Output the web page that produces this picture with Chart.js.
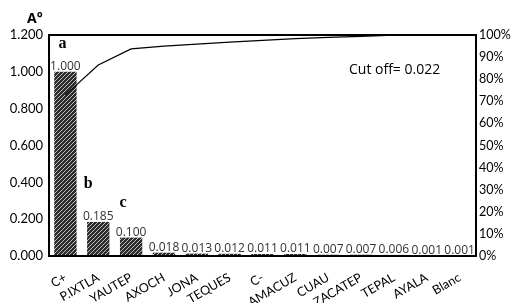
<!DOCTYPE html>
<html>
<head>
<meta charset="utf-8">
<script src="https://cdn.jsdelivr.net/npm/chart.js@4.4.1/dist/chart.umd.min.js"></script>
<style>
  html, body { margin: 0; padding: 0; background: #fff; }
  #wrap { width: 512px; height: 303px; position: relative; }
</style>
</head>
<body>
<div id="wrap"><canvas id="pareto"></canvas></div>
<script>
// values
const labels = ['C+', 'P.IXTLA', 'YAUTEP', 'AXOCH', 'JONA', 'TEQUES', 'C-', 'AMACUZ', 'CUAU', 'ZACATEP', 'TEPAL', 'AYALA', 'Blanc'];
const absorbance = [1.000, 0.185, 0.100, 0.018, 0.013, 0.012, 0.011, 0.011, 0.007, 0.007, 0.006, 0.001, 0.001];
const cumulative = [72.9, 86.4, 93.7, 95.0, 95.9, 96.8, 97.6, 98.4, 98.9, 99.4, 99.9, 99.9, 100];
const groupLetters = ['a', 'b', 'c'];
const leftTicks = [0, 0.2, 0.4, 0.6, 0.8, 1.0, 1.2];
const rightTicks = [0, 10, 20, 30, 40, 50, 60, 70, 80, 90, 100];

// hatch pattern like the original
function makeHatch() {
    const c = document.createElement('canvas');
    c.width = 4; c.height = 4;
    const g = c.getContext('2d');
    g.fillStyle = '#2b2b2b';
    g.fillRect(0, 0, 4, 4);
    g.strokeStyle = '#d0d0d0';
    g.lineWidth = 0.9;
    g.beginPath();
    g.moveTo(0, 4); g.lineTo(4, 0);
    g.moveTo(-1, 1); g.lineTo(1, -1);
    g.moveTo(3, 5); g.lineTo(5, 3);
    g.stroke();
    return g.createPattern(c, 'repeat');
}

const extras = {
    id: 'extras',
    afterDatasetsDraw(chart) {
        const ctx = chart.ctx;
        const a = chart.chartArea;
        const meta = chart.getDatasetMeta(1);
        ctx.save();
        // value labels
        ctx.fillStyle = '#333';
        ctx.font = '12px "Open Sans"';
        ctx.textAlign = 'center';
        ctx.textBaseline = 'bottom';
        meta.data.forEach((bar, i) => {
            ctx.fillText(absorbance[i].toFixed(3), bar.x, bar.y + 1);
        });
        // group letters
        const letterOffsets = [[-3, 28], [-10, 38], [-8, 35]];
        ctx.font = 'bold 16px "Liberation Serif"';
        ctx.fillStyle = '#000';
        ctx.textBaseline = 'middle';
        groupLetters.forEach((t, i) => {
            const bar = meta.data[i];
            ctx.fillText(t, bar.x + letterOffsets[i][0], bar.y - letterOffsets[i][1]);
        });
        // cut off note
        ctx.font = '14px "Open Sans"';
        ctx.textAlign = 'left';
        ctx.fillText('Cut off= 0.022', 349, 70);
        // axis title
        ctx.font = 'bold 14px "Open Sans"';
        ctx.fillText('A°', 27, 19);
        // frame
        ctx.strokeStyle = '#000';
        ctx.lineWidth = 2;
        ctx.strokeRect(a.left, a.top, a.right - a.left, a.bottom - a.top);
        ctx.restore();
    }
};

const ctx = document.getElementById('pareto');
new Chart(ctx, {
    data: {
        labels: labels,
        datasets: [
            {
                type: 'line',
                data: cumulative,
                yAxisID: 'y1',
                borderColor: '#000',
                borderWidth: 1.2,
                pointRadius: 0,
                tension: 0
            },
            {
                type: 'bar',
                data: absorbance,
                yAxisID: 'y',
                backgroundColor: makeHatch(),
                categoryPercentage: 0.68,
                barPercentage: 1
            }
        ]
    },
    options: {
        responsive: true,
        maintainAspectRatio: false,
        animation: false,
        layout: { padding: { top: 35, left: 0, right: 0, bottom: 0 } },
        plugins: { legend: { display: false }, tooltip: { enabled: false } },
        scales: {
            x: {
                grid: { display: false, drawTicks: false },
                border: { display: false },
                ticks: {
                    autoSkip: false,
                    minRotation: 30,
                    maxRotation: 30,
                    color: '#000',
                    padding: 14,
                    font: { family: 'Lato', size: 12.5 }
                },
                afterFit: s => { s.height = 47; }
            },
            y: {
                position: 'left',
                min: 0,
                max: 1.2,
                grid: { display: false, drawTicks: false },
                border: { display: false },
                afterBuildTicks: s => { s.ticks = leftTicks.map(v => ({ value: v })); },
                ticks: {
                    color: '#000',
                    padding: 6,
                    font: { family: 'Lato', size: 13 },
                    callback: v => v.toFixed(3)
                },
                afterFit: s => { s.width = 49; }
            },
            y1: {
                position: 'right',
                min: 0,
                max: 100,
                grid: { display: false, drawTicks: false },
                border: { display: false },
                afterBuildTicks: s => { s.ticks = rightTicks.map(v => ({ value: v })); },
                ticks: {
                    color: '#000',
                    padding: 3,
                    font: { family: 'Lato', size: 12.5 },
                    callback: v => v + '%'
                },
                afterFit: s => { s.width = 36; }
            }
        }
    },
    plugins: [extras]
});
</script>
</body>
</html>
